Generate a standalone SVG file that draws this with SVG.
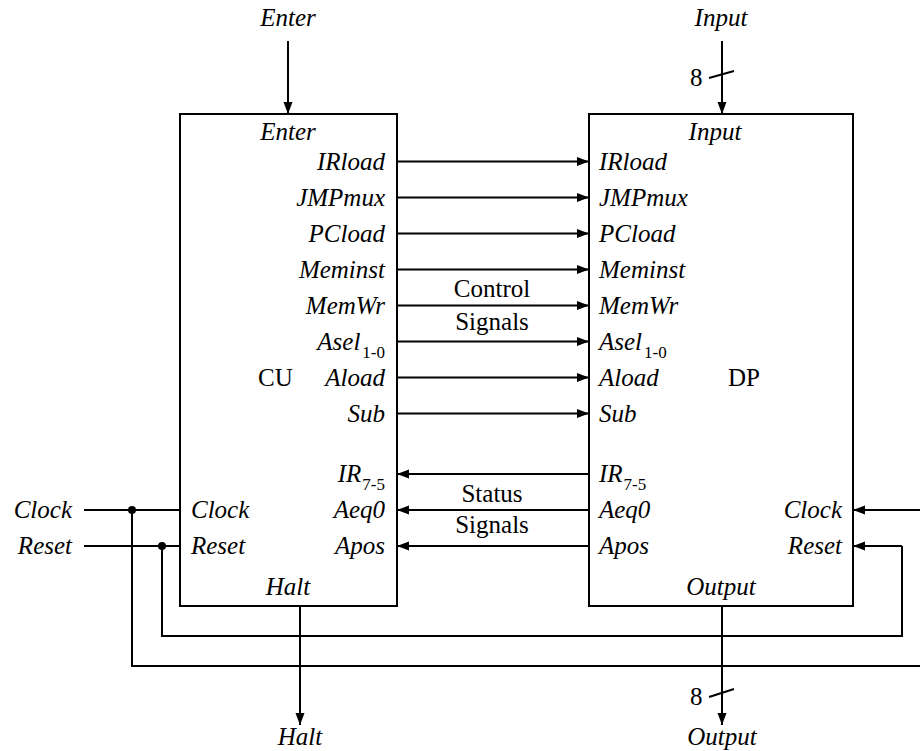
<svg xmlns="http://www.w3.org/2000/svg" width="920" height="751" viewBox="0 0 920 751">
<style>
text{font-family:"Liberation Serif","Times New Roman",Times,Tinos,"Noto Serif","FreeSerif","DejaVu Serif",serif;font-size:25px;fill:#000}
.i{font-style:italic}
.e{text-anchor:end}
.m{text-anchor:middle}
.sub{font-size:17px;font-style:normal}
.box{fill:#fff;stroke:#000;stroke-width:2}
.w{stroke:#000;stroke-width:2;fill:none}
.a{marker-end:url(#ah)}
</style>
<defs>
<marker id="ah" markerUnits="userSpaceOnUse" markerWidth="13" markerHeight="10" refX="12" refY="4.5" orient="auto">
<path d="M0,0 L12,4.5 L0,9 Z" fill="#000"/>
</marker>
</defs>
<rect width="920" height="751" fill="#fff"/>

<g id="CU">
<rect class="box" x="180" y="114" width="217" height="492"/>
<text class="i m" x="288" y="140">Enter</text>
<text class="i e" x="385" y="170">IRload</text>
<text class="i e" x="385" y="206">JMPmux</text>
<text class="i e" x="385" y="242">PCload</text>
<text class="i e" x="385" y="278">Meminst</text>
<text class="i e" x="385" y="314">MemWr</text>
<text class="i e" x="385" y="350">Asel<tspan class="sub" dx="2" dy="8">1-0</tspan></text>
<text class="i e" x="385" y="386">Aload</text>
<text class="i e" x="385" y="422">Sub</text>
<text class="i e" x="385" y="482">IR<tspan class="sub" dx="1" dy="8">7-5</tspan></text>
<text class="i e" x="385" y="518">Aeq0</text>
<text class="i e" x="385" y="554">Apos</text>
<text x="258" y="386">CU</text>
<text class="i" x="191" y="518">Clock</text>
<text class="i" x="191" y="554">Reset</text>
<text class="i m" x="288" y="595">Halt</text>
</g>

<g id="DP">
<rect class="box" x="589" y="114" width="264" height="492"/>
<text class="i m" x="715" y="140">Input</text>
<text class="i" x="599" y="170">IRload</text>
<text class="i" x="599" y="206">JMPmux</text>
<text class="i" x="599" y="242">PCload</text>
<text class="i" x="599" y="278">Meminst</text>
<text class="i" x="599" y="314">MemWr</text>
<text class="i" x="599" y="350">Asel<tspan class="sub" dx="2" dy="8">1-0</tspan></text>
<text class="i" x="599" y="386">Aload</text>
<text class="i" x="599" y="422">Sub</text>
<text class="i" x="599" y="482">IR<tspan class="sub" dx="1" dy="8">7-5</tspan></text>
<text class="i" x="599" y="518">Aeq0</text>
<text class="i" x="599" y="554">Apos</text>
<text x="728" y="386">DP</text>
<text class="i e" x="842" y="518">Clock</text>
<text class="i e" x="842" y="554">Reset</text>
<text class="i m" x="721" y="595">Output</text>
</g>

<g id="ext-labels">
<text class="i m" x="288" y="26">Enter</text>
<text class="i m" x="721" y="26">Input</text>
<text x="690" y="86">8</text>
<text class="i e" x="72" y="518">Clock</text>
<text class="i e" x="72" y="554">Reset</text>
<text class="i m" x="300" y="745">Halt</text>
<text class="i m" x="722" y="745">Output</text>
<text x="690" y="705">8</text>
<text class="m" x="492" y="297">Control</text>
<text class="m" x="492" y="330">Signals</text>
<text class="m" x="492" y="502">Status</text>
<text class="m" x="492" y="533">Signals</text>
</g>

<g id="connectors">
<line class="w a" x1="288" y1="41" x2="288" y2="114"/>
<line class="w a" x1="722" y1="41" x2="722" y2="114"/>
<line class="w" x1="709" y1="78" x2="734" y2="71"/>
<line class="w a" x1="397" y1="161.5" x2="589" y2="161.5"/>
<line class="w a" x1="397" y1="197.5" x2="589" y2="197.5"/>
<line class="w a" x1="397" y1="233.5" x2="589" y2="233.5"/>
<line class="w a" x1="397" y1="269.5" x2="589" y2="269.5"/>
<line class="w a" x1="397" y1="305.5" x2="589" y2="305.5"/>
<line class="w a" x1="397" y1="341.5" x2="589" y2="341.5"/>
<line class="w a" x1="397" y1="377.5" x2="589" y2="377.5"/>
<line class="w a" x1="397" y1="413.5" x2="589" y2="413.5"/>
<line class="w a" x1="589" y1="474" x2="397" y2="474"/>
<line class="w a" x1="589" y1="510" x2="397" y2="510"/>
<line class="w a" x1="589" y1="546" x2="397" y2="546"/>
<line class="w" x1="84" y1="510" x2="180" y2="510"/>
<line class="w" x1="84" y1="546" x2="180" y2="546"/>
<circle cx="132" cy="510" r="4" fill="#000"/>
<circle cx="162" cy="546" r="4" fill="#000"/>
<polyline class="w" points="132,510 132,666 920,666"/>
<polyline class="w" points="162,546 162,636 902,636 902,546"/>
<line class="w a" x1="902" y1="546" x2="853" y2="546"/>
<line class="w a" x1="920" y1="510" x2="853" y2="510"/>
<line class="w a" x1="300" y1="606" x2="300" y2="725"/>
<line class="w a" x1="722" y1="606" x2="722" y2="725"/>
<line class="w" x1="709" y1="697" x2="734" y2="689"/>
</g>
</svg>
